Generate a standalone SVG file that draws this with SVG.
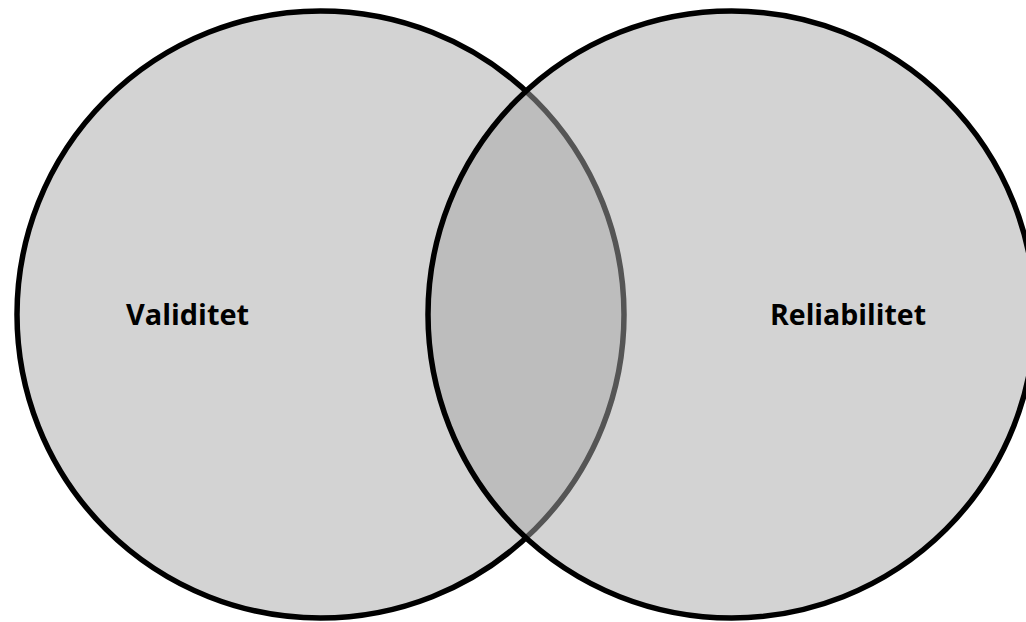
<svg xmlns="http://www.w3.org/2000/svg" width="1026" height="622" viewBox="0 0 1026 622">
<style>
.lbl{font-family:"Open Sans","Liberation Sans",sans-serif;font-weight:bold;font-size:28px;fill:#000}
.c{stroke:#000;stroke-width:5.5}
</style>
<rect width="1026" height="622" fill="#fff"/>
<g id="validitet">
<circle class="c" cx="320.5" cy="314.5" r="303.5" fill="#d3d3d3"/>
</g>
<g id="reliabilitet">
<circle class="c" cx="731.5" cy="314.5" r="303.5" fill="#a8a8a8" fill-opacity="0.506"/>
</g>
<g id="labels">
<text class="lbl" x="126" y="325" textLength="123" lengthAdjust="spacingAndGlyphs">Validitet</text>
<text class="lbl" x="770" y="325" textLength="156" lengthAdjust="spacingAndGlyphs">Reliabilitet</text>
</g>
</svg>
